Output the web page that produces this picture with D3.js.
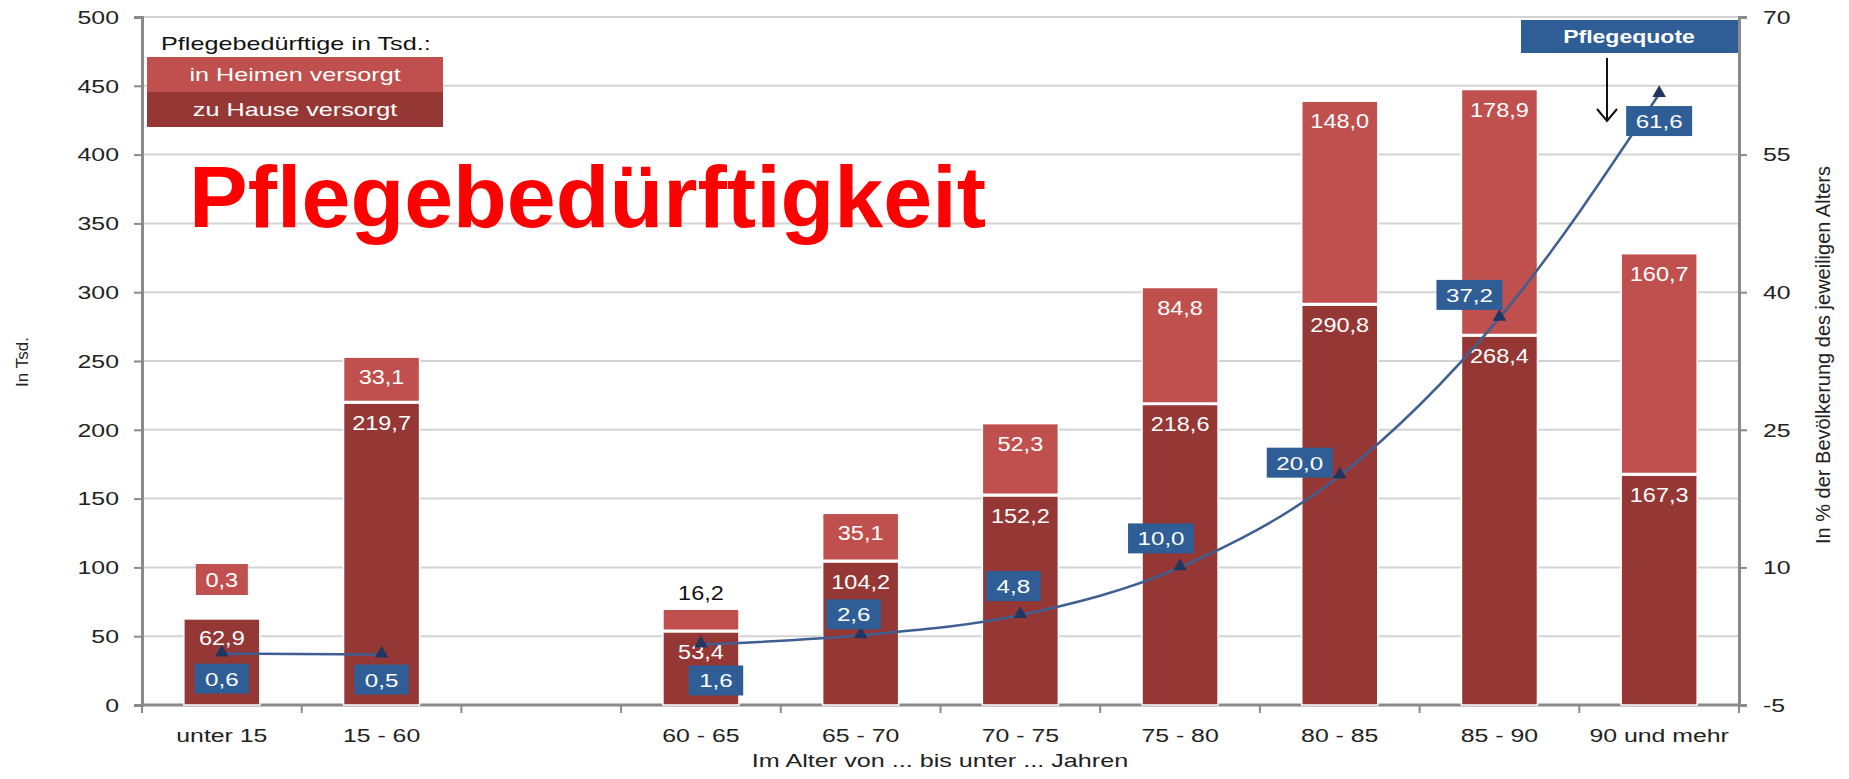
<!DOCTYPE html>
<html><head><meta charset="utf-8">
<script src="https://cdn.jsdelivr.net/npm/d3@7"></script>
<style>
html,body{margin:0;padding:0;background:#fff;}
svg{display:block;font-family:"Liberation Sans",Arial,sans-serif;}
</style></head>
<body>
<svg id="chart" width="1849" height="779"></svg>
<script>
// ---- data ----
const categories = ["unter 15", "15 - 60", "", "60 - 65", "65 - 70", "70 - 75", "75 - 80", "80 - 85", "85 - 90", "90 und mehr"];
const zuHause   = [62.9, 219.7, null, 53.4, 104.2, 152.2, 218.6, 290.8, 268.4, 167.3];
const inHeimen  = [0.3, 33.1, null, 16.2, 35.1, 52.3, 84.8, 148.0, 178.9, 160.7];
const pflegequote = [0.6, 0.5, null, 1.6, 2.6, 4.8, 10.0, 20.0, 37.2, 61.6];
const leftTicks  = [0, 50, 100, 150, 200, 250, 300, 350, 400, 450, 500];
const rightTicks = [-5, 10, 25, 40, 55, 70];
// label placement of the Pflegequote boxes (pixel offsets from the point)
const quoteLabelDx = [0, 0, 0, 15, -7, -7, -19, -40, -30, 0];
const quoteLabelDy = [25, 25, 0, 36, -21, -29, -29, -13, -23, 27];

const colHeim = "#C0504D", colHaus = "#953735", colBlue = "#2E5E95", colLine = "#3F5F92", colMarker = "#1F3660";
const fmt = v => d3.format(".1f")(v).replace(".", ",");
const SX = 1.38; // horizontal stretch of the chart texts

const svg = d3.select("#chart");
const L = 142, R = 1739, T = 17, B = 705;

function txt(g, x, y, str, size, sx, anchor, fill, weight) {
  return g.append("text")
    .attr("transform", `translate(${x},${y}) scale(${sx},1)`)
    .attr("text-anchor", anchor || "middle")
    .attr("font-size", size).attr("fill", fill || "#222")
    .attr("font-weight", weight || "normal").text(str);
}

const x = d3.scaleBand().domain(d3.range(categories.length)).range([L, R]).paddingInner(0.524).paddingOuter(0.262);
const yL = d3.scaleLinear().domain([0, 500]).range([B, T]);
const yR = d3.scaleLinear().domain([-5, 70]).range([B, T]);
const cx = i => x(i) + x.bandwidth() / 2;

// gridlines
svg.append("g").selectAll("line").data(leftTicks).join("line")
  .attr("x1", L).attr("x2", R).attr("y1", d => yL(d)).attr("y2", d => yL(d))
  .attr("stroke", "#d3d3d3").attr("stroke-width", 2);

// left axis
const axL = svg.append("g").attr("transform", `translate(${L},0)`)
  .call(d3.axisLeft(yL).tickValues(leftTicks).tickSize(8).tickFormat(d => String(d)));
axL.select(".domain").attr("stroke", "#8a8a8a").attr("stroke-width", 3);
axL.selectAll(".tick line").attr("stroke", "#8a8a8a").attr("stroke-width", 2);
axL.selectAll(".tick text").attr("x", 0).attr("dy", "0.35em")
  .attr("transform", `translate(-23,0) scale(${SX},1)`)
  .attr("font-size", 18).attr("fill", "#222").attr("font-family", "Liberation Sans, Arial");

// right axis
const axR = svg.append("g").attr("transform", `translate(${R},0)`)
  .call(d3.axisRight(yR).tickValues(rightTicks).tickSize(8).tickFormat(d => String(d)));
axR.select(".domain").attr("stroke", "#8a8a8a").attr("stroke-width", 3);
axR.selectAll(".tick line").attr("stroke", "#8a8a8a").attr("stroke-width", 2);
axR.selectAll(".tick text").attr("x", 0).attr("dy", "0.35em")
  .attr("transform", `translate(24,0) scale(${SX},1)`)
  .attr("font-size", 18).attr("fill", "#222").attr("font-family", "Liberation Sans, Arial");

// bottom axis: ticks at slot boundaries
const bounds = d3.range(categories.length + 1).map(k => L + k * x.step());
svg.append("line").attr("x1", L).attr("x2", R).attr("y1", B).attr("y2", B).attr("stroke", "#8a8a8a").attr("stroke-width", 3);
svg.append("g").selectAll("line").data(bounds).join("line")
  .attr("x1", d => d).attr("x2", d => d).attr("y1", B).attr("y2", B + 8)
  .attr("stroke", "#8a8a8a").attr("stroke-width", 2);
const xl = svg.append("g");
categories.forEach((c, i) => txt(xl, cx(i), 742, c, 18, SX));

// bars
const idx = d3.range(categories.length).filter(i => zuHause[i] != null);
const bars = svg.append("g");
bars.selectAll("rect.haus").data(idx).join("rect").attr("class", "haus")
  .attr("x", i => x(i)).attr("width", x.bandwidth())
  .attr("y", i => yL(zuHause[i])).attr("height", i => B - yL(zuHause[i]))
  .attr("fill", colHaus).attr("stroke", "#fff").attr("stroke-width", 1.5);
bars.selectAll("rect.heim").data(idx).join("rect").attr("class", "heim")
  .attr("x", i => x(i)).attr("width", x.bandwidth())
  .attr("y", i => yL(zuHause[i] + inHeimen[i])).attr("height", i => yL(zuHause[i]) - yL(zuHause[i] + inHeimen[i]))
  .attr("fill", colHeim).attr("stroke", "#fff").attr("stroke-width", 1.5);
bars.selectAll("line.sep").data(idx).join("line").attr("class", "sep")
  .attr("x1", i => x(i)).attr("x2", i => x(i) + x.bandwidth())
  .attr("y1", i => yL(zuHause[i]) - 0.5).attr("y2", i => yL(zuHause[i]) - 0.5)
  .attr("stroke", "#fff").attr("stroke-width", 3);

// bar labels
const lab = svg.append("g");
const VS = 1.12;
idx.forEach(i => {
  const topH = yL(zuHause[i]);
  txt(lab, cx(i), topH + 27, fmt(zuHause[i]), 21, VS, "middle", "#fff");
  const topT = yL(zuHause[i] + inHeimen[i]);
  const h = topH - topT;
  if (h < 3) {
    lab.append("rect").attr("x", cx(i) - 26).attr("y", topT - 54).attr("width", 52).attr("height", 31).attr("fill", colHeim);
    txt(lab, cx(i), topT - 31, fmt(inHeimen[i]), 21, VS, "middle", "#fff");
  } else if (h < 30) {
    txt(lab, cx(i), topT - 9, fmt(inHeimen[i]), 21, VS, "middle", "#111");
  } else {
    txt(lab, cx(i), topT + 27, fmt(inHeimen[i]), 21, VS, "middle", "#fff");
  }
});

// Pflegequote line
const line = d3.line().defined(i => pflegequote[i] != null).x(i => cx(i)).y(i => yR(pflegequote[i])).curve(d3.curveMonotoneX);
svg.append("path").datum(d3.range(categories.length)).attr("d", line)
  .attr("fill", "none").attr("stroke", colLine).attr("stroke-width", 2.5);
const tri = d3.symbol().type(d3.symbolTriangle).size(80);
svg.append("g").selectAll("path").data(idx).join("path")
  .attr("d", tri).attr("transform", i => `translate(${cx(i)},${yR(pflegequote[i]) - 1})`)
  .attr("fill", colMarker);

// Pflegequote labels
const ql = svg.append("g");
idx.forEach(i => {
  const px = cx(i) + quoteLabelDx[i], py = yR(pflegequote[i]) + quoteLabelDy[i];
  const t = fmt(pflegequote[i]);
  const w = t.length * 11.5 + 20;
  ql.append("rect").attr("x", px - w / 2).attr("y", py - 15).attr("width", w).attr("height", 30).attr("fill", colBlue);
  txt(ql, px, py + 7, t, 19, 1.27, "middle", "#fff");
});

// legend
const lg = svg.append("g");
txt(lg, 161, 50, "Pflegebedürftige in Tsd.:", 18, 1.4, "start", "#111");
const legendItems = [["in Heimen versorgt", colHeim], ["zu Hause versorgt", colHaus]];
legendItems.forEach((d, k) => {
  lg.append("rect").attr("x", 147).attr("y", 57 + k * 35).attr("width", 296).attr("height", 35).attr("fill", d[1]);
  txt(lg, 295, 57 + k * 35 + 24, d[0], 18, 1.4, "middle", "#fff");
});

// Pflegequote box + arrow
svg.append("rect").attr("x", 1521).attr("y", 20).attr("width", 217).attr("height", 33).attr("fill", colBlue);
txt(svg, 1629, 43, "Pflegequote", 18, 1.28, "middle", "#fff", "bold");
svg.append("line").attr("x1", 1607).attr("x2", 1607).attr("y1", 58).attr("y2", 121).attr("stroke", "#111").attr("stroke-width", 2);
svg.append("path").attr("d", "M1597,109 L1607,121 L1617,109").attr("fill", "none").attr("stroke", "#111").attr("stroke-width", 2);

// axis titles
svg.append("text").attr("transform", "translate(28,362) rotate(-90)").attr("text-anchor", "middle").attr("font-size", 17).attr("fill", "#222").text("In Tsd.");
svg.append("text").attr("transform", "translate(1830,355) rotate(-90)").attr("text-anchor", "middle").attr("font-size", 20).attr("fill", "#222").text("In % der Bevölkerung des jeweiligen Alters");
txt(svg, 940, 767, "Im Alter von ... bis unter ... Jahren", 18, 1.4, "middle", "#222");

// big title
svg.append("text").attr("x", 189).attr("y", 227).attr("font-size", 88).attr("font-weight", "bold").attr("fill", "#FF0000").text("Pflegebedürftigkeit");
</script>
</body></html>
